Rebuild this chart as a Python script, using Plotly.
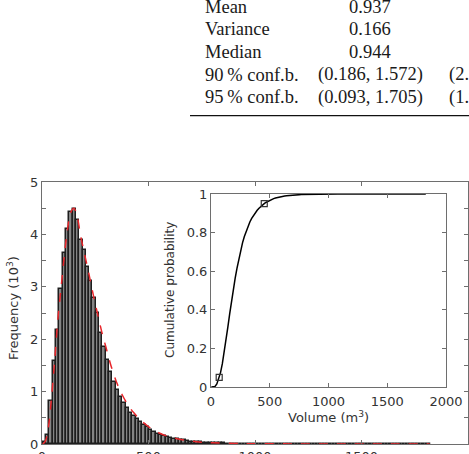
import numpy as np
import plotly.graph_objects as go

# ---------------- data ----------------
# histogram of volumes, counts in units of 10^3
bin_start = 3.0      # m^3
bin_width = 15.6     # m^3
counts = [
    0.03, 0.17, 0.83, 1.59, 2.18, 2.96, 3.65, 4.10, 4.43, 4.48,
    4.27, 3.89, 3.70, 3.38, 3.12, 2.79, 2.50, 2.12, 1.86, 1.60,
    1.38, 1.19, 1.03, 0.90, 0.78, 0.68, 0.60, 0.53, 0.47, 0.42,
    0.36, 0.32, 0.27, 0.23, 0.20, 0.18, 0.155, 0.14, 0.12, 0.10,
    0.09, 0.08, 0.068, 0.057, 0.047, 0.040, 0.034, 0.029, 0.025, 0.021,
    0.017, 0.015, 0.013, 0.012, 0.010, 0.009, 0.008, 0.007, 0.0065, 0.006,
    0.0052, 0.0047, 0.0043, 0.0039, 0.0035, 0.0032, 0.0029, 0.0026, 0.0024, 0.0022,
    0.0020, 0.0019, 0.0018, 0.0016, 0.0015, 0.0014, 0.0013, 0.0012, 0.0012, 0.0011,
    0.0010, 0.0009, 0.0009, 0.0008, 0.0008, 0.0007, 0.0007, 0.0007, 0.0006, 0.0006,
    0.0006, 0.0005, 0.0005, 0.0005, 0.0005, 0.0004, 0.0004, 0.0004, 0.0004, 0.0004,
    0.0003, 0.0003, 0.0003, 0.0003, 0.0003, 0.0003, 0.0002, 0.0002, 0.0002, 0.0002,
    0.0002, 0.0002, 0.0002, 0.0001, 0.0001, 0.0001, 0.0001,
]

# fitted density (red dashed curve), units of 10^3
fit_x = [3, 15, 30, 45, 60, 75, 90, 105, 120, 135,
         150, 165, 180, 200, 220, 240, 260, 280, 300, 325,
         350, 375, 400, 430, 460, 500, 550, 600, 650, 700,
         750, 800, 900, 1000, 1200, 1400, 1600, 1820]
fit_y = [0, 0.05, 0.32, 0.9, 1.62, 2.4, 3.0, 3.6, 4.1, 4.42,
         4.5, 4.35, 4.0, 3.62, 3.25, 2.86, 2.5, 2.15, 1.85, 1.48,
         1.18, 0.95, 0.77, 0.6, 0.47, 0.33, 0.21, 0.135, 0.088, 0.055,
         0.035, 0.022, 0.01, 0.005, 0.002, 0.001, 0.0005, 0.0002]

quantile_levels = [0.05, 0.95]

main_xticks = [0, 500, 1000, 1500, 2000]
main_yticks = [0, 1, 2, 3, 4, 5]
main_yminor = [0.5, 1.5, 2.5, 3.5, 4.5]
inset_xticks = [0, 500, 1000, 1500, 2000]
inset_yticks = [0, 0.2, 0.4, 0.6, 0.8, 1]
inset_ytext = ["0", "0.2", "0.4", "0.6", "0.8", "1"]

table_rows = ["Mean", "Variance", "Median", "90\u2009% conf.b.", "95\u2009% conf.b."]
table_col2 = ["0.937", "0.166", "0.944", "(0.186, 1.572)", "(0.093, 1.705)"]
table_col3 = ["", "", "", "(2.2", "(1.9"]

# ---------------- derived ----------------
counts_arr = np.array(counts)
n = len(counts_arr)
centers = bin_start + bin_width * (np.arange(n) + 0.5)
edges = bin_start + bin_width * np.arange(n + 1)
cdf_y = np.concatenate([[0.0], np.cumsum(counts_arr) / counts_arr.sum()])
q_x = np.interp(quantile_levels, cdf_y, edges)

# ---------------- layout geometry ----------------
W, H = 469, 454
L, R, T, B = 42, 1, 182, 10
PW, PH = W - L - R, H - T - B


def px2x(px):
    return (px - L) / PW


def py2y(py):
    return (H - B - py) / PH


AX = "#6e6e6e"
TXT = "#333333"
FONT = "DejaVu Sans"

fig = go.Figure()
fig.add_trace(go.Bar(
    x=centers, y=counts_arr, width=bin_width,
    marker=dict(color="#858585", line=dict(color="#1e1e1e", width=1.5)),
    xaxis="x", yaxis="y", hoverinfo="skip",
))
fig.add_trace(go.Scatter(
    x=fit_x, y=fit_y, mode="lines", line=dict(color="#e8262b", width=1.5, dash="dash", shape="spline"),
    xaxis="x", yaxis="y",
))
fig.add_trace(go.Scatter(
    x=edges, y=cdf_y, mode="lines", line=dict(color="black", width=1.5),
    xaxis="x2", yaxis="y2",
))
fig.add_trace(go.Scatter(
    x=q_x, y=quantile_levels, mode="markers",
    marker=dict(symbol="square-open", size=6, color="#333333", line=dict(width=1.2)),
    xaxis="x2", yaxis="y2", cliponaxis=False,
))

axis_common = dict(
    showline=True, linecolor=AX, linewidth=1, mirror="ticks",
    ticks="inside", ticklen=4, tickcolor=AX, tickwidth=1,
    showgrid=False, zeroline=False, automargin=False,
    tickfont=dict(family=FONT, size=13, color=TXT),
)

fig.update_layout(
    width=W, height=H,
    margin=dict(l=L, r=R, t=T, b=B),
    paper_bgcolor="white", plot_bgcolor="white",
    showlegend=False, bargap=0, template="none",
    font=dict(family=FONT, size=13, color=TXT),
    xaxis=dict(domain=[0, 1], range=[0, 2000], tickvals=main_xticks,
               anchor="y", **axis_common),
    yaxis=dict(domain=[0, 1], range=[0, 5], tickvals=main_yticks,
               minor=dict(tickvals=main_yminor, ticks="inside", ticklen=4, tickcolor=AX, tickwidth=1,
                          showgrid=False),
               anchor="x", **axis_common),
    xaxis2=dict(domain=[px2x(211), px2x(446)], range=[0, 2000], tickvals=inset_xticks,
                anchor="y2", ticklabelstandoff=2, **axis_common),
    yaxis2=dict(domain=[py2y(387), py2y(194)], range=[0, 1], tickvals=inset_yticks,
                ticktext=inset_ytext, anchor="x2", **axis_common),
)

ann = []
ann.append(dict(text="Frequency (10<sup>3</sup>)", x=px2x(13), y=py2y(308), xref="paper", yref="paper",
                textangle=-90, showarrow=False, xanchor="center", yanchor="middle",
                font=dict(family=FONT, size=13, color=TXT)))
ann.append(dict(text="Cumulative probability", x=px2x(170), y=py2y(290), xref="paper", yref="paper",
                textangle=-90, showarrow=False, xanchor="center", yanchor="middle",
                font=dict(family=FONT, size=12, color=TXT)))
ann.append(dict(text="Volume (m<sup>3</sup>)", x=px2x(328), y=py2y(417), xref="paper", yref="paper",
                showarrow=False, xanchor="center", yanchor="middle",
                font=dict(family=FONT, size=13, color=TXT)))

serif = dict(family="Liberation Serif", size=18.5, color="#1a1a1a")
row_base = [12.7, 35.3, 57.9, 80.5, 103.1]
for i, rb in enumerate(row_base):
    yc = py2y(rb - 6)
    ann.append(dict(text=table_rows[i], x=px2x(203), y=yc, xref="paper", yref="paper",
                    showarrow=False, xanchor="left", yanchor="middle", font=serif))
    ann.append(dict(text=table_col2[i], x=px2x(370), y=yc, xref="paper", yref="paper",
                    showarrow=False, xanchor="center", yanchor="middle", font=serif))
    if table_col3[i]:
        ann.append(dict(text=table_col3[i], x=px2x(447), y=yc, xref="paper", yref="paper",
                        showarrow=False, xanchor="left", yanchor="middle", font=serif))
fig.update_layout(annotations=ann)

fig.add_shape(type="line", xref="paper", yref="paper",
              x0=px2x(190), x1=px2x(475), y0=py2y(115.7), y1=py2y(115.7),
              line=dict(color="#111111", width=1.3))

fig.write_html("out.html")
